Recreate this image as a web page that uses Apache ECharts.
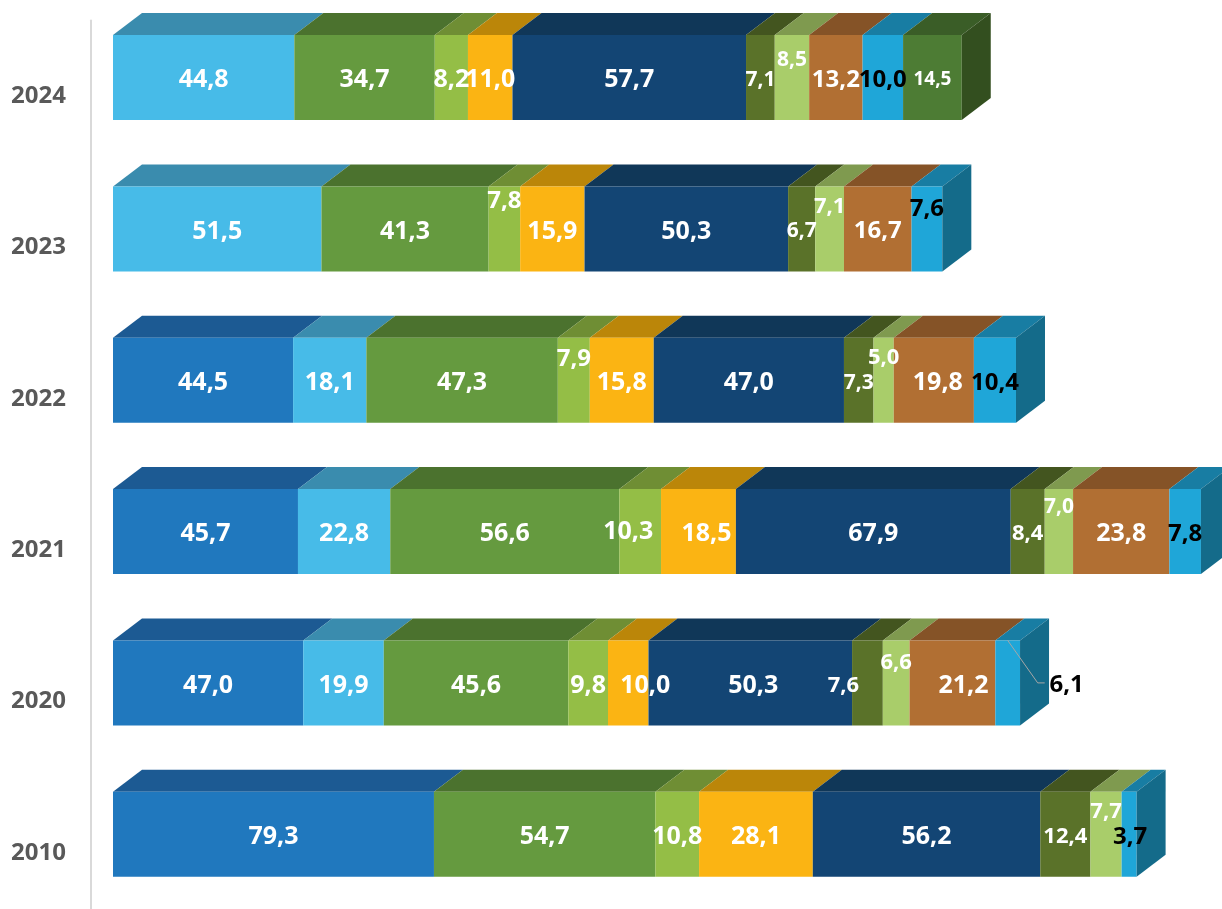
<!DOCTYPE html>
<html><head><meta charset="utf-8">
<style>html,body{margin:0;padding:0;background:#fff}#c{width:1222px;height:909px}</style>
<script src="https://cdn.jsdelivr.net/npm/echarts@6/dist/echarts.min.js"></script>
</head><body><div id="c"></div>
<script>
var years = ['2024','2023','2022','2021','2020','2010'];
var seriesA = [null, null, 44.5, 45.7, 47.0, 79.3];
var seriesB = [44.8, 51.5, 18.1, 22.8, 19.9, null];
var seriesC = [34.7, 41.3, 47.3, 56.6, 45.6, 54.7];
var seriesD = [8.2, 7.8, 7.9, 10.3, 9.8, 10.8];
var seriesE = [11.0, 15.9, 15.8, 18.5, 10.0, 28.1];
var seriesF = [57.7, 50.3, 47.0, 67.9, 50.3, 56.2];
var seriesG = [7.1, 6.7, 7.3, 8.4, 7.6, 12.4];
var seriesH = [8.5, 7.1, 5.0, 7.0, 6.6, 7.7];
var seriesI = [13.2, 16.7, 19.8, 23.8, 21.2, null];
var seriesJ = [10.0, 7.6, 10.4, 7.8, 6.1, 3.7];
var seriesK = [14.5, null, null, null, null, null];

var allSeries = [seriesA, seriesB, seriesC, seriesD, seriesE, seriesF, seriesG, seriesH, seriesI, seriesJ, seriesK];
var frontColors = ['#2078BE','#47BBE8','#659A3F','#94BE46','#FBB413','#134574','#5A7229','#A9CD6A','#B16F33','#1FA6D8','#4D7C34'];
var topColors   = ['#1C5A93','#3A8CAE','#4B722E','#6F8E34','#BB8609','#103758','#43551F','#7F9A4F','#855327','#187DA3','#3A5D27'];
var sideColors  = ['#174A78','#2F7390','#3C5C25','#5A742A','#9A6E07','#0D2C47','#364419','#667D40','#6B4320','#146B8A','#334F1F'];

var DEPTH_X = 29, DEPTH_Y = 22, BAR_H = 85, FRONT_SHIFT = -18.5, LABEL_SHIFT = 2.5, FONT = '"Open Sans", sans-serif';
/* label placement overrides, keyed by series index and year index */
var labelStyle = {
  '6|0': {size: 21}, '7|0': {size: 21, dy: -20}, '8|0': {size: 24}, '9|0': {color: '#000', size: 24}, '10|0': {size: 19},
  '3|1': {dy: -30, size: 24}, '6|1': {size: 21}, '7|1': {dy: -25, size: 22}, '8|1': {size: 24}, '9|1': {color: '#000', dy: -22, size: 24},
  '3|2': {dy: -24, size: 24}, '6|2': {size: 21}, '7|2': {dy: -25, size: 22}, '8|2': {dx: 4}, '9|2': {color: '#000', size: 24},
  '3|3': {dx: -12, dy: -2}, '4|3': {dx: 8}, '6|3': {size: 22}, '7|3': {dy: -27, size: 21}, '9|3': {color: '#000', size: 24},
  '4|4': {dx: 17}, '5|4': {dx: 3}, '6|4': {dx: -24, size: 22}, '7|4': {dy: -23, size: 22}, '8|4': {dx: 11},
  '9|4': {color: '#000', dx: 59, leader: true, size: 24},
  '6|5': {size: 22}, '7|5': {dy: -25, size: 22}, '9|5': {color: '#000', dx: 1, size: 24}
};

function rows(si) {
  var out = [];
  years.forEach(function (y, yi) {
    var v = allSeries[si][yi];
    if (v == null) return;
    var start = 0, last = true;
    allSeries.forEach(function (s, k) {
      if (k < si && s[yi] != null) start += s[yi];
      if (k > si && s[yi] != null) last = false;
    });
    out.push([start, start + v, yi, v, last ? 1 : 0]);
  });
  return out;
}

function makeRender(si) {
  return function (params, api) {
    var x0 = api.coord([api.value(0), api.value(2)]);
    var x1 = api.coord([api.value(1), api.value(2)]);
    var mid = x0[1] + FRONT_SHIFT;
    var top = mid - BAR_H / 2, bot = mid + BAR_H / 2;
    var l = x0[0], r = x1[0];
    var ls = labelStyle[si + '|' + api.value(2)] || {};
    var kids = [
      {type: 'polygon', shape: {points: [[l, top], [r, top], [r + DEPTH_X, top - DEPTH_Y], [l + DEPTH_X, top - DEPTH_Y]]}, style: {fill: topColors[si]}},
      {type: 'rect', shape: {x: l, y: top, width: r - l, height: BAR_H}, style: {fill: frontColors[si]}}
    ];
    if (api.value(4)) {
      kids.push({type: 'polygon', shape: {points: [[r, top], [r + DEPTH_X, top - DEPTH_Y], [r + DEPTH_X, bot - DEPTH_Y], [r, bot]]}, style: {fill: sideColors[si]}});
    }
    var cx = (l + r) / 2;
    if (ls.leader) {
      kids.push({type: 'polyline', z2: 50, shape: {points: [[cx, top], [cx + 30, mid], [cx + 37, mid]]}, style: {stroke: '#A6A6A6', lineWidth: 1, fill: null}});
    }
    kids.push({type: 'text', z2: 100, style: {
      text: api.value(3).toFixed(1).replace('.', ','),
      x: cx + (ls.dx || 0), y: mid + LABEL_SHIFT + (ls.dy || 0),
      align: 'center', verticalAlign: 'middle',
      fill: ls.color || '#fff', fontSize: ls.size || 25, fontWeight: 700, fontFamily: FONT
    }});
    return {type: 'group', children: kids};
  };
}

var chart = echarts.init(document.getElementById('c'), null, {renderer: 'canvas'});
chart.setOption({
  animation: false,
  backgroundColor: '#fff',
  grid: {left: 113, top: 20.4, width: 1109, height: 908, outerBoundsMode: 'none'},
  xAxis: {type: 'value', min: 0, max: 274, show: false},
  yAxis: {
    type: 'category', inverse: true, data: years, offset: 22,
    axisLine: {show: true, onZero: false, lineStyle: {color: '#D9D9D9', width: 2}},
    axisTick: {show: false},
    axisLabel: {margin: 25, color: '#595959', fontSize: 24, fontWeight: 700, fontFamily: FONT}
  },
  series: allSeries.map(function (s, si) {
    return {type: 'custom', clip: false, coordinateSystem: 'cartesian2d',
      encode: {x: [0, 1], y: 2}, renderItem: makeRender(si), data: rows(si)};
  })
});
</script></body></html>
